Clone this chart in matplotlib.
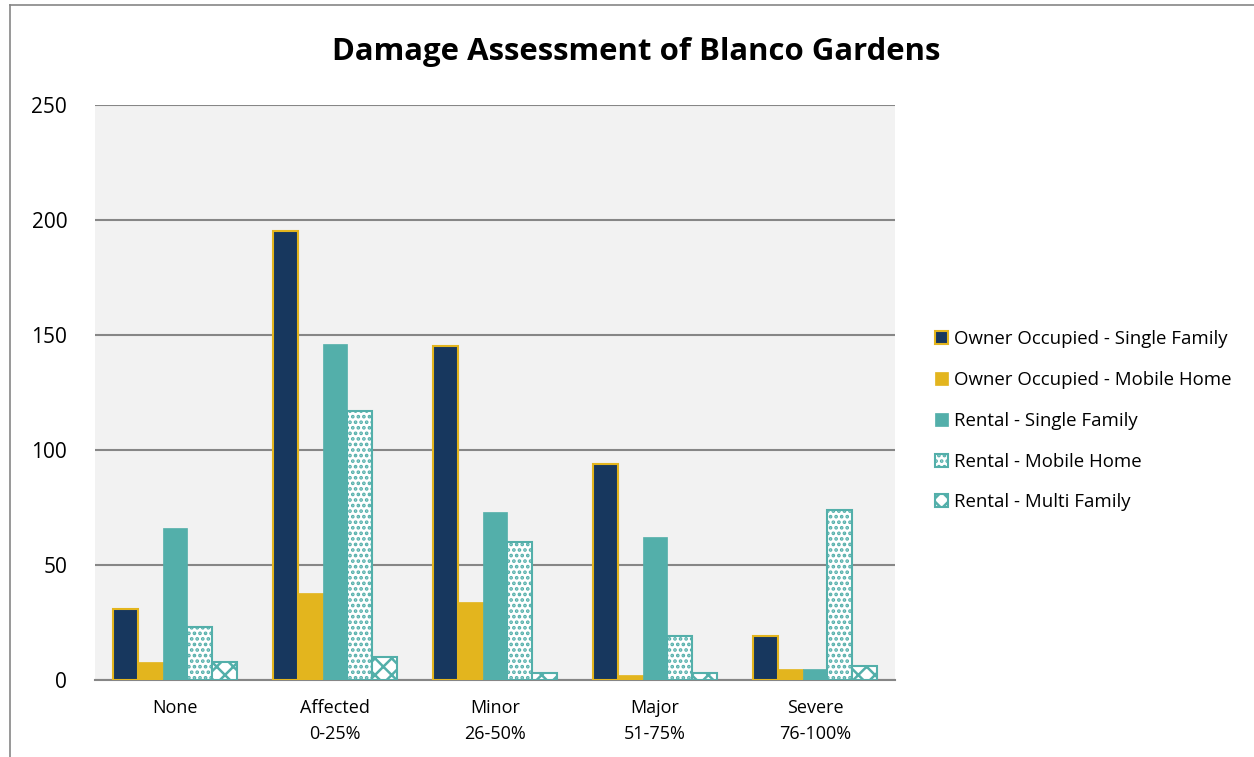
import matplotlib
matplotlib.use("Agg")
import matplotlib.pyplot as plt
import numpy as np
from matplotlib.lines import Line2D

categories = ["None", "Affected\n0-25%", "Minor\n26-50%", "Major\n51-75%", "Severe\n76-100%"]
series_names = ["Owner Occupied - Single Family", "Owner Occupied - Mobile Home",
                "Rental - Single Family", "Rental - Mobile Home", "Rental - Multi Family"]
owner_single = [31, 195, 145, 94, 19]
owner_mobile = [8, 38, 34, 2, 5]
rental_single = [66, 146, 73, 62, 5]
rental_mobile = [23, 117, 60, 19, 74]
rental_multi = [8, 10, 3, 3, 6]
yticks = [0, 50, 100, 150, 200, 250]

plt.rcParams['font.family'] = ['Open Sans', 'DejaVu Sans']
plt.rcParams['hatch.linewidth'] = 1.8

W, H = 1254, 757
fig = plt.figure(figsize=(W/100, H/100), dpi=100)
ax = fig.add_axes([95/W, 1-680/H, 800/W, 575/H])
ax.set_facecolor('#F2F2F2')

navy = '#17375E'
gold = '#E3B51E'
teal = '#53AFAA'

x = np.arange(len(categories))
bw = 0.156
offs = (np.arange(5) - 2) * bw
styles = [
    dict(color=navy, edgecolor=gold, linewidth=1.5),
    dict(color=gold, edgecolor=gold, linewidth=0.5),
    dict(color=teal, edgecolor=teal, linewidth=0.5),
    dict(facecolor='white', edgecolor=teal, hatch='...', linewidth=1.5),
    dict(facecolor='white', edgecolor=teal, hatch='xx', linewidth=1.5),
]
data = [owner_single, owner_mobile, rental_single, rental_mobile, rental_multi]
handles = []
for i, (vals, st) in enumerate(zip(data, styles)):
    b = ax.bar(x + offs[i], vals, bw, label=series_names[i], zorder=3, **st)
    handles.append(b)

ax.set_xlim(-0.5, len(categories) - 0.5)
ax.set_ylim(0, 250)
ax.set_yticks(yticks)
ax.grid(axis='y', color='#868686', linewidth=1.5, zorder=0)
ax.set_axisbelow(True)
for s in ['top', 'right', 'left']:
    ax.spines[s].set_visible(False)
ax.spines['bottom'].set_color('#868686')
ax.spines['bottom'].set_linewidth(1.5)
ax.set_xticks(x)
ax.set_xticklabels(categories, fontsize=13, linespacing=1.55)
ax.tick_params(axis='x', length=0, pad=14)
ax.tick_params(axis='y', length=0, labelsize=15, pad=20)

fig.text(636/W, 1-52/H, "Damage Assessment of Blanco Gardens",
         ha='center', va='center', fontsize=22.4, fontweight='bold')

leg = fig.legend(handles=handles, labels=series_names, loc='upper left',
                 bbox_to_anchor=(928/W, 1-323/H), frameon=False, fontsize=13.4,
                 handlelength=0.7, handleheight=0.7, handletextpad=0.3,
                 labelspacing=1.22, borderaxespad=0)

# outer chart border (left and top)
fig.add_artist(Line2D([10/W, 10/W], [0, 1-5/H], color='#868686', linewidth=1.2,
                      transform=fig.transFigure))
fig.add_artist(Line2D([10/W, 1], [1-5/H, 1-5/H], color='#868686', linewidth=1.2,
                      transform=fig.transFigure))

fig.savefig('out.png', dpi=100)
